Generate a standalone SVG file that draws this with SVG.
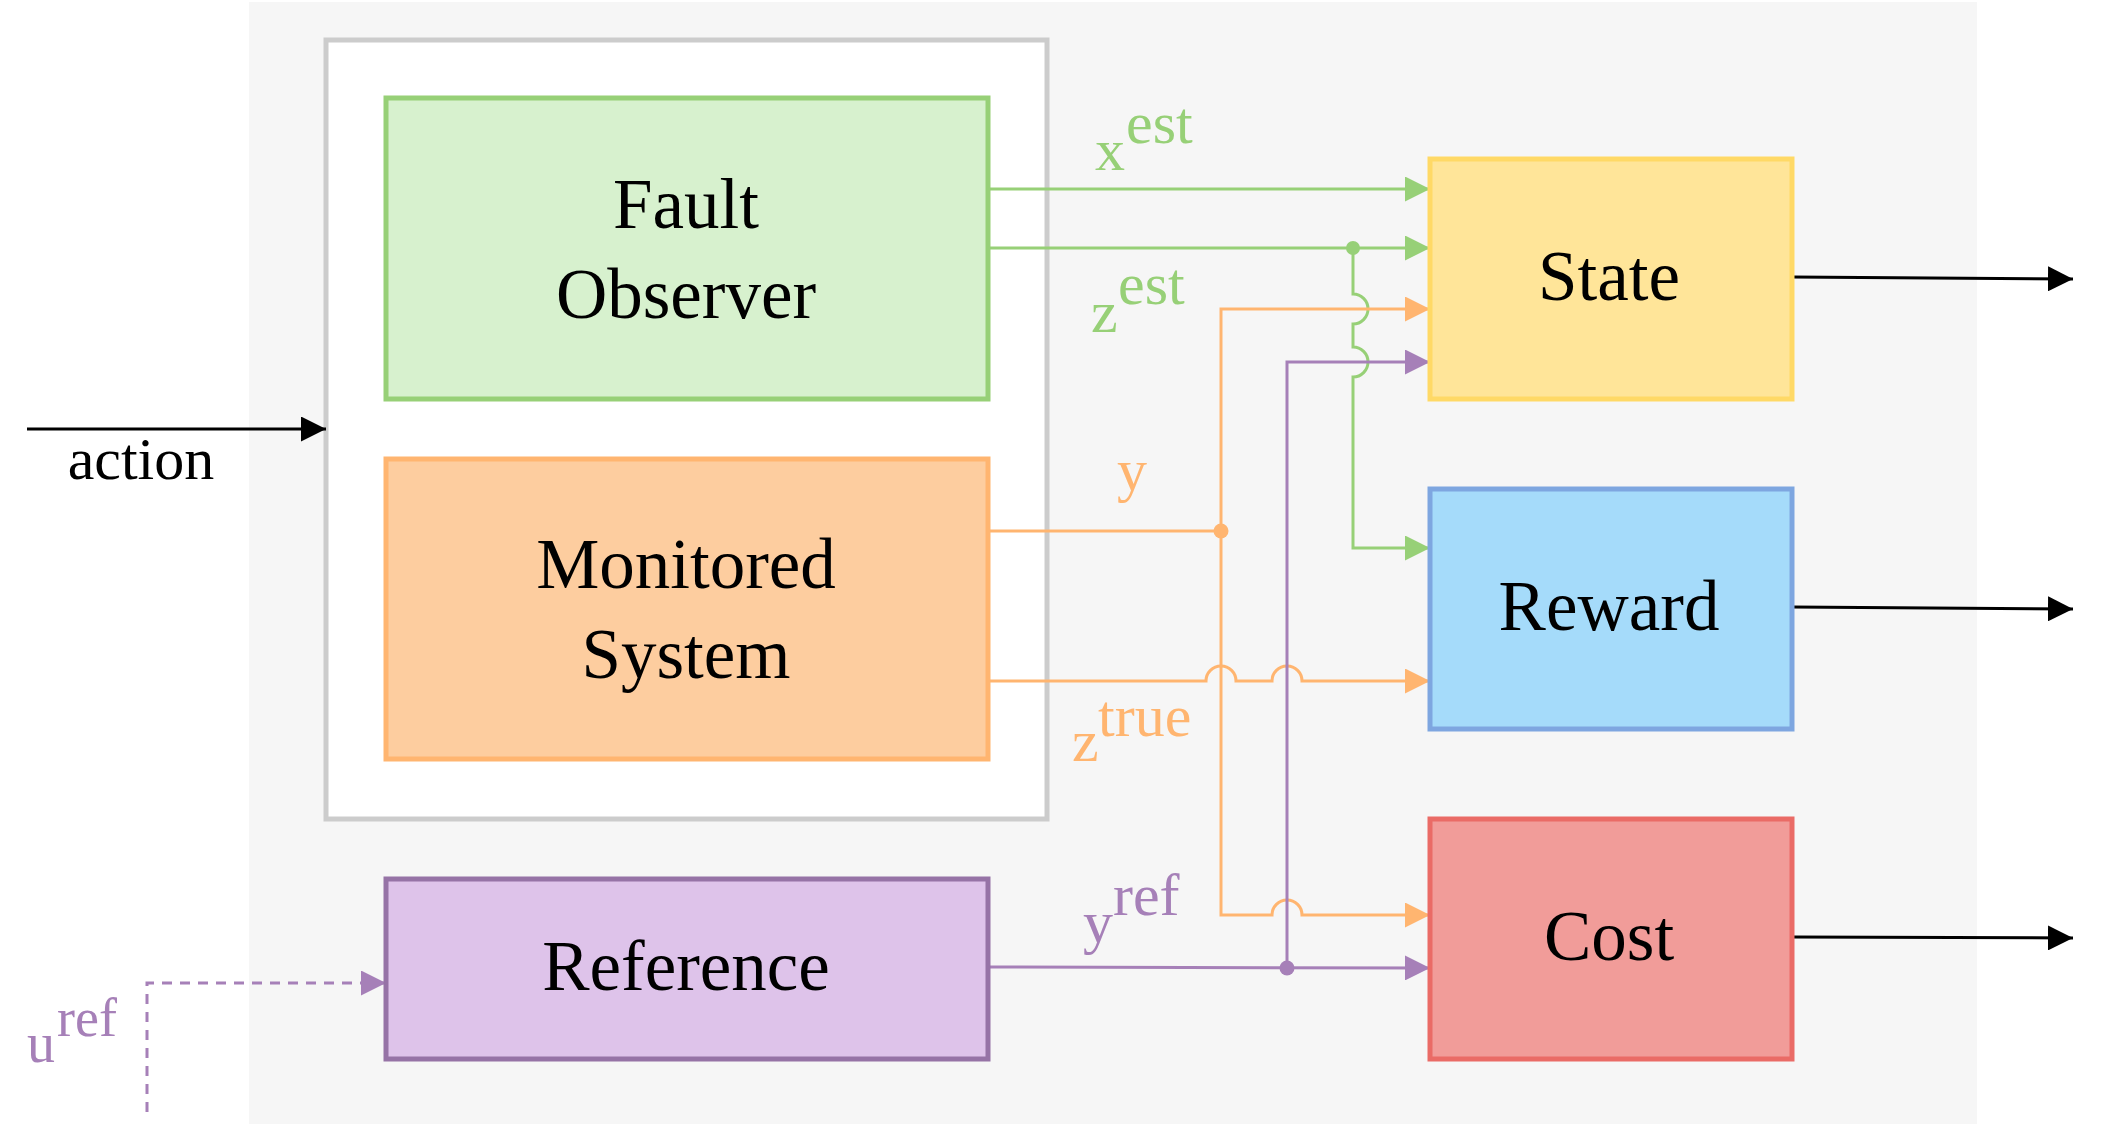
<svg xmlns="http://www.w3.org/2000/svg" width="2106" height="1140" viewBox="0 0 2106 1140">
<style>
text{font-family:"Liberation Serif","Times New Roman",serif;}
.big{font-size:71px;fill:#000;text-anchor:middle;}
.lbl{font-size:60px;}
.box{stroke-width:5;}
.c{fill:none;stroke-width:3;}
.g{stroke:#97d077;}
.o{stroke:#ffb570;}
.p{stroke:#a680b8;}
.k{stroke:#000;}
</style>
<defs>
<marker id="ag" viewBox="0 0 25 25" refX="25" refY="12.5" markerWidth="25" markerHeight="25" markerUnits="userSpaceOnUse" orient="auto"><path d="M0,0 L25,12.5 L0,25 z" fill="#97d077"/></marker>
<marker id="ao" viewBox="0 0 25 25" refX="25" refY="12.5" markerWidth="25" markerHeight="25" markerUnits="userSpaceOnUse" orient="auto"><path d="M0,0 L25,12.5 L0,25 z" fill="#ffb570"/></marker>
<marker id="ap" viewBox="0 0 25 25" refX="25" refY="12.5" markerWidth="25" markerHeight="25" markerUnits="userSpaceOnUse" orient="auto"><path d="M0,0 L25,12.5 L0,25 z" fill="#a680b8"/></marker>
<marker id="ak" viewBox="0 0 25 25" refX="25" refY="12.5" markerWidth="25" markerHeight="25" markerUnits="userSpaceOnUse" orient="auto"><path d="M0,0 L25,12.5 L0,25 z" fill="#000"/></marker>
</defs>
<rect x="0" y="0" width="2106" height="1140" fill="#fff"/>
<rect id="background" x="249" y="2" width="1728" height="1122" fill="#f6f6f6"/>
<g id="container"><rect x="326" y="40" width="721" height="779" fill="#fff" stroke="#cccccc" stroke-width="5"/></g>

<g id="connectors">
<path class="c g" d="M988 189 H1430" marker-end="url(#ag)"/>
<path class="c g" d="M988 248 H1430" marker-end="url(#ag)"/>
<path class="c g" d="M1353 248 V294 A15 15 0 0 1 1353 324 V347 A15 15 0 0 1 1353 377 V548 H1430" marker-end="url(#ag)"/>
<path class="c o" d="M988 531 H1221"/>
<path class="c o" d="M1221 531 V309 H1430" marker-end="url(#ao)"/>
<path class="c o" d="M1221 531 V915 H1272 A15 15 0 0 1 1302 915 H1430" marker-end="url(#ao)"/>
<path class="c o" d="M988 681 H1206 A15 15 0 0 1 1236 681 H1272 A15 15 0 0 1 1302 681 H1430" marker-end="url(#ao)"/>
<path class="c p" d="M988 967 L1430 968" marker-end="url(#ap)"/>
<path class="c p" d="M1287 968 V362 H1430" marker-end="url(#ap)"/>
<path class="c p" d="M147 1112 V983 H386" stroke-dasharray="10 8" marker-end="url(#ap)"/>
<path class="c k" d="M27 429 H326" marker-end="url(#ak)"/>
<path class="c k" d="M1792 277 L2073 279" marker-end="url(#ak)"/>
<path class="c k" d="M1792 607 L2073 609" marker-end="url(#ak)"/>
<path class="c k" d="M1792 937 L2073 938" marker-end="url(#ak)"/>
<circle cx="1353" cy="248" r="7" fill="#97d077"/>
<circle cx="1221" cy="531" r="7.5" fill="#ffb570"/>
<circle cx="1287" cy="968" r="7.5" fill="#a680b8"/>
<text class="lbl" fill="#97d077"><tspan x="1095" y="170">x</tspan><tspan x="1126" y="143">est</tspan></text>
<text class="lbl" fill="#97d077"><tspan x="1091" y="332">z</tspan><tspan x="1118" y="304">est</tspan></text>
<text class="lbl" fill="#ffb570" x="1117" y="490">y</text>
<text class="lbl" fill="#ffb570"><tspan x="1072" y="761">z</tspan><tspan x="1098" y="736">true</tspan></text>
<text class="lbl" fill="#a680b8"><tspan x="1083" y="942">y</tspan><tspan x="1113" y="915">ref</tspan></text>
<text fill="#a680b8" font-size="56"><tspan x="27" y="1062">u</tspan><tspan x="57" y="1036" font-size="54">ref</tspan></text>
<text class="lbl" fill="#000" x="141" y="479" text-anchor="middle">action</text>
</g>

<g id="fault-observer">
<rect class="box" x="386" y="98" width="602" height="301" fill="#d7f1ce" stroke="#97d077"/>
<text class="big" x="686" y="228">Fault</text>
<text class="big" x="686" y="318">Observer</text>
</g>
<g id="monitored-system">
<rect class="box" x="386" y="459" width="602" height="300" fill="#fdcd9f" stroke="#ffb570"/>
<text class="big" x="686" y="588">Monitored</text>
<text class="big" x="686" y="678">System</text>
</g>
<g id="reference">
<rect class="box" x="386" y="879" width="602" height="180" fill="#dec3ea" stroke="#9673a6"/>
<text class="big" x="686" y="990">Reference</text>
</g>
<g id="state">
<rect class="box" x="1430" y="159" width="362" height="240" fill="#ffe599" stroke="#ffd966"/>
<text class="big" x="1609" y="300">State</text>
</g>
<g id="reward">
<rect class="box" x="1430" y="489" width="362" height="240" fill="#a5dbfa" stroke="#7ea6e0"/>
<text class="big" x="1609" y="630">Reward</text>
</g>
<g id="cost">
<rect class="box" x="1430" y="819" width="362" height="240" fill="#f19c99" stroke="#ea6b66"/>
<text class="big" x="1609" y="960">Cost</text>
</g>
</svg>
